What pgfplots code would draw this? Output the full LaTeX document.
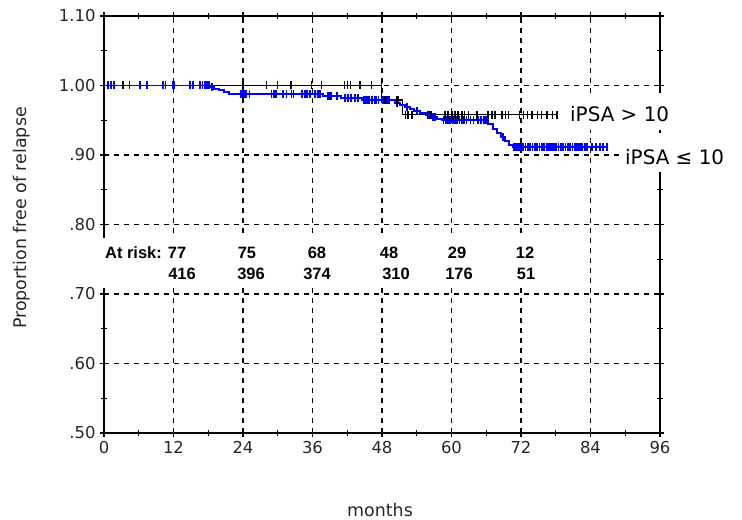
\documentclass[border=0pt]{standalone}
\usepackage{fontspec}
\setmainfont{DejaVu Sans}
\newfontfamily\arialfont{Liberation Sans}
\usepackage{pgfplots}
\pgfplotsset{compat=1.18}

\pgfplotstableread{
x y
0 1.000
47.9 0.979
51.6 0.958
78.2 0.958
}\blackline

\pgfplotstableread{
x y
3.3 1.000
24.0 1.000
28.1 1.000
30.0 1.000
32.2 1.000
32.4 1.000
35.8 1.000
37.6 1.000
41.5 1.000
42.0 1.000
42.6 1.000
44.2 1.000
46.2 1.000
47.9 1.000
48.5 0.979
49.0 0.979
50.6 0.979
50.9 0.979
52.0 0.958
52.5 0.958
53.2 0.958
55.8 0.958
56.3 0.958
56.6 0.958
58.9 0.958
59.4 0.958
60.1 0.958
60.6 0.958
61.1 0.958
61.8 0.958
62.3 0.958
62.9 0.958
64.4 0.958
66.3 0.958
67.0 0.958
67.5 0.958
68.7 0.958
69.3 0.958
69.8 0.958
71.8 0.958
72.4 0.958
73.1 0.958
73.9 0.958
74.8 0.958
75.6 0.958
76.5 0.958
77.4 0.958
78.2 0.958
}\blackcens

\pgfplotstableread{
x y
0 1.000
18.4 0.998
19.0 0.995
19.8 0.993
20.7 0.990
21.6 0.988
37.8 0.985
40.9 0.982
44.6 0.979
50.3 0.975
51.1 0.972
51.9 0.969
52.8 0.966
53.6 0.963
54.6 0.960
55.6 0.957
56.5 0.955
57.5 0.952
58.3 0.950
66.3 0.944
67.1 0.938
67.8 0.932
68.6 0.926
69.3 0.920
70.0 0.915
70.6 0.911
87.0 0.911
}\blueline

\pgfplotstableread{
x y
0.7 1.000
1.2 1.000
1.7 1.000
4.4 1.000
6.2 1.000
7.4 1.000
10.2 1.000
10.6 1.000
11.9 1.000
12.1 1.000
14.8 1.000
15.4 1.000
16.6 1.000
17.0 1.000
17.4 1.000
17.8 1.000
18.1 1.000
18.7 0.998
23.6 0.988
23.9 0.988
24.2 0.988
24.5 0.988
25.1 0.988
28.9 0.988
29.3 0.988
29.7 0.988
30.9 0.988
31.5 0.988
32.4 0.988
32.7 0.988
34.2 0.988
34.7 0.988
35.0 0.988
35.6 0.988
36.4 0.988
37.0 0.988
37.3 0.988
38.6 0.985
38.9 0.985
39.2 0.985
40.2 0.985
41.6 0.982
42.1 0.982
42.7 0.982
43.3 0.982
43.9 0.982
44.8 0.979
45.1 0.979
45.4 0.979
45.7 0.979
46.3 0.979
46.7 0.979
47.0 0.979
47.4 0.979
48.1 0.979
48.4 0.979
48.7 0.979
49.0 0.979
49.3 0.979
50.6 0.975
52.3 0.969
54.0 0.963
55.9 0.957
56.8 0.955
57.2 0.955
58.6 0.950
59.0 0.950
59.4 0.950
59.8 0.950
60.2 0.950
60.6 0.950
61.0 0.950
61.4 0.950
61.8 0.950
62.2 0.950
62.6 0.950
63.3 0.950
63.8 0.950
64.6 0.950
65.1 0.950
65.6 0.950
66.0 0.950
68.9 0.926
70.8 0.911
71.1 0.911
71.4 0.911
71.7 0.911
72.0 0.911
72.4 0.911
72.8 0.911
73.2 0.911
73.6 0.911
74.0 0.911
74.4 0.911
74.8 0.911
75.2 0.911
75.6 0.911
76.0 0.911
76.4 0.911
76.7 0.911
77.0 0.911
77.3 0.911
77.7 0.911
78.1 0.911
78.5 0.911
78.9 0.911
79.3 0.911
79.7 0.911
80.1 0.911
80.5 0.911
80.9 0.911
81.3 0.911
81.7 0.911
82.0 0.911
82.3 0.911
82.6 0.911
83.0 0.911
83.4 0.911
84.2 0.911
85.0 0.911
85.6 0.911
86.2 0.911
86.8 0.911
}\bluecens

\begin{document}
\begin{tikzpicture}
\path (-104bp,-87bp) rectangle (638bp,433bp);
\begin{axis}[
  at={(0,0)}, anchor=south west,
  scale only axis, width=556bp, height=417bp,
  xmin=0, xmax=96, ymin=0.5, ymax=1.1,
  xtick={0,12,24,36,48,60,72,84,96},
  xticklabels={0,12,24,36,48,60,72,84,96},
  minor xtick={6,18,30,42,54,66,78,90},
  ytick={0.5,0.6,0.7,0.8,0.9,1.0,1.1},
  yticklabels={.50,.60,.70,.80,.90,1.00,1.10},
  minor ytick={0.55,0.65,0.75,0.85,0.95,1.05},
  tick align=center,
  major tick length=8bp, minor tick length=6bp,
  tick style={black, line width=1.2bp},
  grid=major,
  major grid style={black, dash pattern=on 5bp off 5bp, line width=1.2bp},
  axis line style={black, line width=1.5bp},
  ticklabel style={font=\fontsize{16.5}{18}\selectfont, text=black!85},
  xticklabel style={yshift=-1bp},
  yticklabel style={xshift=-1bp},
  clip=false,
]
\addplot[const plot, black, line width=1.3bp] table[x=x,y=y] {\blackline};
\addplot[const plot, blue, line width=1.9bp] table[x=x,y=y] {\blueline};
\addplot[only marks, mark=|, mark size=4bp, blue, mark options={line width=1.7bp}] table[x=x,y=y] {\bluecens};
\addplot[only marks, mark=|, mark size=4bp, black, mark options={line width=1.3bp}] table[x=x,y=y] {\blackcens};
\end{axis}
% white area behind the at-risk table
\fill[white] (-10bp,145bp) rectangle (440bp,195bp);
\node[anchor=west, inner sep=0pt, font=\arialfont\bfseries\fontsize{16.5}{18}\selectfont] at (1bp,180bp) {At risk: 77};
\begin{scope}[every node/.style={inner sep=0pt, font=\arialfont\bfseries\fontsize{16.5}{18}\selectfont}]
\node at (143bp,180bp) {75};
\node at (213bp,180bp) {68};
\node at (285bp,180bp) {48};
\node at (353bp,180bp) {29};
\node at (421bp,180bp) {12};
\node at (78bp,159bp) {416};
\node at (147bp,159bp) {396};
\node at (213bp,159bp) {374};
\node at (292bp,159bp) {310};
\node at (355bp,159bp) {176};
\node at (422bp,159bp) {51};
\end{scope}
% label boxes
\fill[white] (454bp,303bp) rectangle (638bp,340bp);
\fill[white] (518bp,261bp) rectangle (638bp,300bp);
\node[anchor=west, inner sep=0pt, font=\fontsize{20}{22}\selectfont] at (466bp,319bp) {iPSA > 10};
\node[anchor=west, inner sep=0pt, font=\fontsize{20}{22}\selectfont] at (521bp,276bp) {iPSA ≤ 10};
% axis titles
\node[rotate=90, inner sep=0pt, font=\fontsize{17.5}{19}\selectfont, text=black!85] at (-82bp,215bp) {Proportion free of relapse};
\node[inner sep=0pt, font=\fontsize{17.5}{19}\selectfont, text=black!85] at (276bp,-77bp) {months};
\end{tikzpicture}
\end{document}
